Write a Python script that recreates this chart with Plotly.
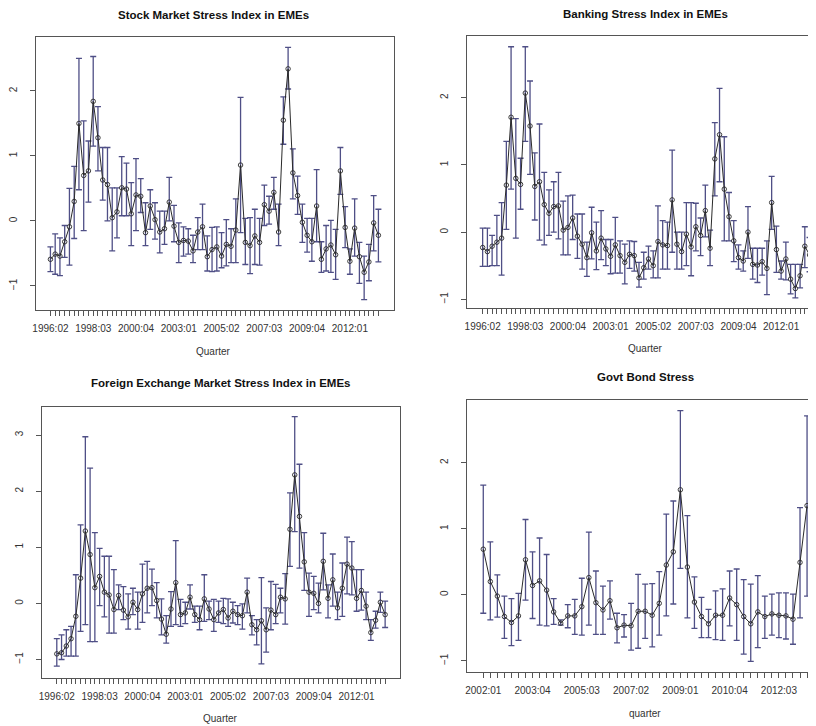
import numpy as np
import plotly.graph_objects as go
from plotly.subplots import make_subplots

# ---- data ----
stock_mid = [-0.59, -0.51, -0.54, -0.32, -0.09, 0.30, 1.50, 0.70, 0.77, 1.84,
             1.28, 0.63, 0.56, 0.05, 0.14, 0.51, 0.49, 0.11, 0.40, 0.38,
             -0.18, 0.23, 0.02, -0.17, -0.12, 0.29, -0.08, -0.33, -0.30, -0.31,
             -0.46, -0.17, -0.09, -0.55, -0.44, -0.40, -0.54, -0.36, -0.39, -0.14,
             0.86, -0.33, -0.38, -0.23, -0.33, 0.25, 0.15, 0.44, -0.17, 1.55,
             2.34, 0.74, 0.39, -0.02, -0.22, -0.32, 0.23, -0.59, -0.43, -0.37,
             -0.52, 0.77, -0.10, -0.62, -0.11, -0.55, -0.79, -0.63, -0.03, -0.22]
stock_hi = [-0.40, -0.20, -0.26, -0.07, 0.50, 0.84, 2.50, 1.54, 1.23, 2.53,
            1.76, 1.13, 1.13, 0.51, 0.51, 0.99, 0.89, 0.59, 0.96, 0.65,
            0.28, 0.48, 0.28, 0.15, 0.15, 0.67, 0.24, -0.03, -0.09, -0.12,
            -0.22, 0.05, 0.26, -0.23, -0.10, -0.09, -0.18, 0.02, -0.12, 0.34,
            1.90, 0.04, 0.05, 0.18, 0.04, 0.55, 0.38, 0.67, 0.26, 1.91,
            2.67, 1.11, 0.69, 0.26, 0.04, 0.04, 0.79, -0.32, -0.07, 0.01,
            -0.13, 1.13, 0.22, -0.43, 0.34, -0.33, -0.54, -0.36, 0.39, 0.18]
stock_lo = [-0.78, -0.82, -0.84, -0.56, -0.68, -0.27, 0.48, -0.15, 0.29, 1.15,
            0.77, 0.32, 0.00, -0.46, -0.26, 0.08, 0.08, -0.38, -0.15, 0.13,
            -0.38, -0.13, -0.28, -0.49, -0.36, 0.00, -0.32, -0.64, -0.54, -0.51,
            -0.64, -0.44, -0.44, -0.77, -0.78, -0.77, -0.72, -0.69, -0.64, -0.64,
            -0.18, -0.67, -0.81, -0.67, -0.68, -0.07, -0.05, 0.18, -0.38, 1.18,
            2.03, 0.34, 0.10, -0.33, -0.48, -0.62, -0.32, -0.79, -0.77, -0.79,
            -0.90, 0.41, -0.41, -0.82, -0.54, -0.96, -1.21, -0.92, -0.46, -0.63]

bank_mid = [-0.23, -0.29, -0.21, -0.15, -0.09, 0.70, 1.71, 0.80, 0.71, 2.07,
            1.58, 0.68, 0.75, 0.41, 0.28, 0.38, 0.39, 0.03, 0.07, 0.21,
            -0.06, -0.18, -0.38, -0.01, -0.28, -0.09, -0.25, -0.36, -0.19, -0.35,
            -0.45, -0.33, -0.35, -0.68, -0.53, -0.40, -0.50, -0.14, -0.19, -0.20,
            0.48, -0.18, -0.29, -0.03, -0.22, 0.08, -0.05, 0.32, -0.24, 1.09,
            1.45, 0.64, 0.23, -0.13, -0.38, -0.43, 0.00, -0.48, -0.49, -0.44,
            -0.54, 0.44, -0.26, -0.58, -0.40, -0.70, -0.84, -0.65, -0.21, -0.34]
bank_hi = [0.06, 0.06, -0.05, 0.25, 0.44, 1.35, 2.76, 1.69, 1.10, 2.76,
           2.25, 1.18, 1.61, 0.89, 0.63, 0.75, 0.89, 0.46, 0.54, 0.55,
           0.27, 0.27, -0.15, 0.37, 0.15, 0.32, -0.11, -0.11, 0.22, -0.13,
           -0.18, -0.13, -0.14, -0.45, -0.30, -0.21, -0.28, 0.39, 0.17, 0.15,
           1.22, 0.00, 0.00, 0.44, 0.44, 0.43, 0.21, 0.70, 0.03, 1.63,
           2.14, 1.42, 0.59, 0.17, -0.19, -0.28, 0.38, -0.24, -0.24, -0.24,
           -0.13, 0.83, 0.09, -0.43, -0.15, -0.48, -0.48, -0.48, 0.08, -0.08]
bank_lo = [-0.51, -0.51, -0.50, -0.50, -0.64, 0.04, 0.64, -0.09, 0.34, 1.35,
           0.86, 0.18, -0.12, -0.19, -0.05, 0.00, -0.10, -0.34, -0.34, -0.11,
           -0.39, -0.55, -0.66, -0.40, -0.56, -0.41, -0.50, -0.62, -0.61, -0.61,
           -0.77, -0.54, -0.58, -0.82, -0.70, -0.55, -0.68, -0.68, -0.55, -0.55,
           -0.30, -0.55, -0.55, -0.50, -0.65, -0.28, -0.35, -0.07, -0.50, 0.54,
           0.75, -0.13, -0.13, -0.44, -0.55, -0.58, -0.39, -0.70, -0.75, -0.64,
           -0.93, 0.04, -0.60, -0.70, -0.71, -0.92, -0.98, -0.83, -0.53, -0.59]

fx_mid = [-0.90, -0.88, -0.76, -0.63, -0.23, 0.45, 1.29, 0.87, 0.28, 0.48,
          0.20, 0.15, -0.11, 0.14, -0.12, -0.24, 0.02, -0.11, 0.17, 0.27,
          0.28, 0.05, -0.28, -0.55, -0.10, 0.37, -0.20, -0.17, 0.11, -0.20,
          -0.29, 0.08, -0.10, -0.29, -0.17, -0.11, -0.26, -0.14, -0.20, -0.22,
          0.20, -0.38, -0.47, -0.31, -0.47, -0.12, -0.20, 0.11, 0.08, 1.32,
          2.29, 1.55, 0.74, 0.20, 0.18, 0.00, 0.75, 0.09, 0.42, -0.08,
          0.27, 0.70, 0.63, 0.09, 0.23, -0.05, -0.52, -0.30, 0.02, -0.20]
fx_hi = [-0.63, -0.56, -0.47, -0.41, 0.51, 1.40, 2.97, 2.41, 1.26, 0.98,
         0.84, 0.84, 0.60, 0.33, 0.30, 0.17, 0.27, 0.20, 0.70, 0.75,
         0.61, 0.37, 0.08, -0.22, 0.21, 1.12, 0.07, 0.02, 0.33, -0.05,
         -0.05, 0.51, 0.04, 0.07, 0.04, 0.09, 0.08, 0.02, -0.04, -0.01,
         0.45, -0.22, -0.29, 0.46, -0.08, 0.39, 0.34, 0.27, 0.53, 1.97,
         3.33, 2.48, 1.26, 0.54, 0.48, 0.36, 1.25, 0.33, 0.88, 0.20,
         0.72, 1.18, 1.10, 0.60, 0.60, 0.20, -0.29, -0.14, 0.20, 0.04]
fx_lo = [-1.12, -1.00, -0.94, -0.94, -0.94, -0.50, -0.38, -0.68, -0.68, -0.04,
         -0.24, -0.53, -0.53, -0.11, -0.29, -0.46, -0.20, -0.46, -0.34, -0.17,
         -0.04, -0.26, -0.56, -0.71, -0.41, -0.38, -0.41, -0.36, -0.10, -0.34,
         -0.47, -0.32, -0.29, -0.50, -0.34, -0.36, -0.41, -0.35, -0.38, -0.46,
         -0.17, -0.56, -0.74, -1.08, -0.87, -0.47, -0.36, -0.17, -0.37, 0.66,
         1.28, 0.63, 0.23, -0.23, -0.11, -0.17, 0.24, -0.26, -0.05, -0.29,
         -0.23, 0.17, 0.15, -0.14, -0.12, -0.29, -0.66, -0.44, -0.16, -0.43]

bond_mid = [0.69, 0.20, -0.02, -0.33, -0.42, -0.32, 0.53, 0.14, 0.21, 0.07,
            -0.26, -0.43, -0.32, -0.32, -0.18, 0.26, -0.12, -0.23, -0.09, -0.50,
            -0.46, -0.47, -0.25, -0.25, -0.31, -0.13, 0.45, 0.65, 1.59, 0.42,
            -0.11, -0.33, -0.44, -0.31, -0.31, -0.05, -0.15, -0.33, -0.44, -0.26,
            -0.33, -0.29, -0.31, -0.32, -0.37, 0.49, 1.35]
bond_hi = [1.66, 0.80, 0.30, -0.02, -0.06, 0.02, 1.14, 0.65, 0.86, 0.61,
           -0.06, -0.38, -0.15, -0.07, 0.25, 0.95, 0.36, 0.13, 0.21, -0.28,
           -0.30, -0.13, 0.31, 0.16, 0.17, 0.35, 1.22, 1.42, 2.79, 1.20,
           0.27, -0.04, -0.22, 0.06, 0.09, 0.36, 0.39, 0.23, 0.16, 0.29,
           -0.02, 0.01, 0.03, 0.03, 0.01, 1.32, 2.71]
bond_lo = [-0.28, -0.38, -0.34, -0.66, -0.77, -0.69, -0.08, -0.36, -0.46, -0.47,
           -0.45, -0.46, -0.50, -0.60, -0.61, -0.46, -0.60, -0.60, -0.37, -0.73,
           -0.64, -0.84, -0.81, -0.66, -0.79, -0.61, -0.32, -0.14, 0.40, -0.35,
           -0.51, -0.65, -0.65, -0.68, -0.69, -0.47, -0.69, -0.90, -1.01, -0.80,
           -0.66, -0.61, -0.65, -0.67, -0.75, -0.35, -0.02]

labels_9605 = ["1996:02", "1998:03", "2000:04", "2003:01", "2005:02",
               "2007:03", "2009:04", "2012:01"]
labels_0201 = ["2002:01", "2003:04", "2005:03", "2007:02", "2009:01",
               "2010:04", "2012:03"]


def quarters(year, q, n):
    out = []
    for _ in range(n):
        out.append("%d:%02d" % (year, q))
        q += 1
        if q > 4:
            q = 1
            year += 1
    return out


q_long = quarters(1996, 2, len(stock_mid))
q_bond = quarters(2002, 1, len(bond_mid))

FONT = "Liberation Sans, Arial, sans-serif"
BAR = "#4f4f86"
INK = "#2a2a2a"
AXC = "#555555"

# page puts the figure 8px in from the top-left corner, so work in screen
# pixels and shift by that offset
OFF = 8
W, H = 816 - OFF, 726 - OFF


def fx(px):
    return (px - OFF) / W


def fy(py):
    return 1 - (py - OFF) / H


fig = make_subplots(rows=2, cols=2)

panels = [
    # mid, hi, lo, cats, labels, row, col, xrange, yrange, yticks
    (stock_mid, stock_hi, stock_lo, q_long, labels_9605, 1, 1, [-3.06, 72.3], [-1.37, 2.83], [-1, 0, 1, 2]),
    (bank_mid, bank_hi, bank_lo, q_long, labels_9605, 1, 2, [-3.36, 70.36], [-1.13, 2.92], [-1, 0, 1, 2]),
    (fx_mid, fx_hi, fx_lo, q_long, labels_9605, 2, 1, [-3.14, 72.14], [-1.33, 3.50], [-1, 0, 1, 2, 3]),
    (bond_mid, bond_hi, bond_lo, q_bond, labels_0201, 2, 2, [-2.35, 47.27], [-1.17, 2.95], [-1, 0, 1, 2]),
]

for mid, hi, lo, cats, labs, r, c, xr, yr, yt in panels:
    m = np.array(mid)
    fig.add_trace(go.Scatter(
        x=cats, y=mid, mode="lines+markers",
        line=dict(color=INK, width=1),
        marker=dict(symbol="circle-open", size=4.5, color=INK, line=dict(width=0.9)),
        error_y=dict(type="data", symmetric=False,
                     array=list(np.array(hi) - m), arrayminus=list(m - np.array(lo)),
                     color=BAR, thickness=1.3, width=3),
        showlegend=False), row=r, col=c)
    fig.update_xaxes(type="category", range=xr, tickmode="array", tickvals=cats,
                     ticktext=[q if q in labs else "" for q in cats],
                     ticks="outside", ticklen=5, tickcolor=AXC, tickwidth=1,
                     showline=True, linecolor=AXC, linewidth=1, mirror=True,
                     showgrid=False, zeroline=False, tickangle=0,
                     ticklabelstandoff=4,
                     tickfont=dict(family=FONT, size=10, color="#333"),
                     row=r, col=c)
    fig.update_yaxes(range=yr, tickmode="array", tickvals=yt,
                     ticks="outside", ticklen=5, tickcolor=AXC, tickwidth=1,
                     showline=True, linecolor=AXC, linewidth=1, mirror=(c == 1),
                     showgrid=False, zeroline=False, tickangle=-90,
                     ticklabelstandoff=9,
                     tickfont=dict(family=FONT, size=10, color="#333"),
                     row=r, col=c)

fig.update_layout(
    width=W, height=H, margin=dict(l=0, r=0, t=0, b=0),
    paper_bgcolor="white", plot_bgcolor="white",
    xaxis=dict(domain=[fx(32), fx(392)]), yaxis=dict(domain=[fy(310), fy(37)]),
    xaxis2=dict(domain=[fx(465), 1.0]), yaxis2=dict(domain=[fy(308), fy(36)]),
    xaxis3=dict(domain=[fx(38), fx(398)]), yaxis3=dict(domain=[fy(678), fy(407)]),
    xaxis4=dict(domain=[fx(465), 1.0]), yaxis4=dict(domain=[fy(672), fy(400)]),
)

titles = [
    ("Stock Market Stress Index in EMEs", 211, 15),
    ("Banking Stress Index in EMEs", 645, 14),
    ("Foreign Exchange Market Stress Index in EMEs", 218, 383),
    ("Govt Bond Stress", 645, 377),
]
for txt, px, py in titles:
    fig.add_annotation(text="<b>" + txt + "</b>", x=fx(px), y=fy(py),
                       xref="paper", yref="paper", showarrow=False,
                       xanchor="center", yanchor="middle",
                       font=dict(family=FONT, size=11.5, color="#111"))

xtitles = [("Quarter", 211, 351), ("Quarter", 645, 349),
           ("Quarter", 218, 718), ("quarter", 644, 713)]
for txt, px, py in xtitles:
    fig.add_annotation(text=txt, x=fx(px), y=fy(py),
                       xref="paper", yref="paper", showarrow=False,
                       xanchor="center", yanchor="middle",
                       font=dict(family=FONT, size=10, color="#333"))

fig.write_html("out.html")
